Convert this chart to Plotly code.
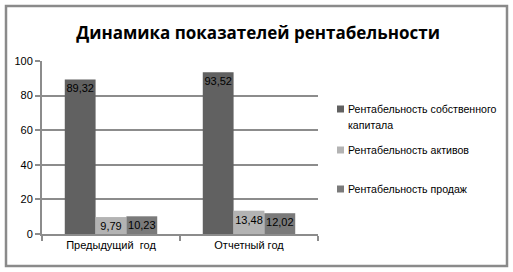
import plotly.graph_objects as go

categories = ["Предыдущий  год", "Отчетный год"]
series_names = ["Рентабельность собственного<br>капитала", "Рентабельность активов", "Рентабельность продаж"]
roe = [89.32, 93.52]
roa = [9.79, 13.48]
ros = [10.23, 12.02]
colors = ["#616161", "#b3b3b3", "#7a7a7a"]

FONT = "Liberation Sans"
L, R, T, B = 42, 195, 61, 38
W, H = 513, 272
PW, PH = W - L - R, H - T - B


def px(x):
    return (x - L) / PW


def py(y):
    return (H - B - y) / PH


fig = go.Figure()
for i, (name, vals) in enumerate(zip(series_names, [roe, roa, ros])):
    fig.add_trace(go.Bar(
        x=categories, y=vals, name=name, marker=dict(color=colors[i], line=dict(width=0)),
        texttemplate="%{y:.2f}", textposition="inside", insidetextanchor="end",
        textangle=0, constraintext="none",
        textfont=dict(family=FONT, size=11, color="#000000"),
        hoverinfo="skip", showlegend=False,
    ))

shapes = [dict(type="rect", xref="paper", yref="paper",
               x0=px(6), x1=px(507), y0=py(266), y1=py(6),
               line=dict(color="#8a8a8a", width=2.5), fillcolor="rgba(0,0,0,0)", layer="below")]
annotations = []
legend_y = [109, 150, 189]
for i, name in enumerate(series_names):
    yc = legend_y[i]
    shapes.append(dict(type="rect", xref="paper", yref="paper",
                       x0=px(337), x1=px(344), y0=py(yc + 3.5), y1=py(yc - 3.5),
                       line=dict(width=0), fillcolor=colors[i]))
    for j, line in enumerate(name.split("<br>")):
        annotations.append(dict(xref="paper", yref="paper", x=px(346), y=py(yc + 16 * j),
                                xanchor="left", yanchor="middle", showarrow=False, text=line,
                                font=dict(family=FONT, size=10.6, color="#000000")))

fig.update_layout(
    width=W, height=H,
    margin=dict(l=L, r=R, t=T, b=B),
    paper_bgcolor="white", plot_bgcolor="white",
    separators=", ",
    barmode="group", bargap=0.33, bargroupgap=0,
    title=dict(text="<b>Динамика показателей рентабельности</b>", x=0.503, xanchor="center",
               y=0.88, yanchor="middle",
               font=dict(family="Open Sans", size=17, color="#000000")),
    font=dict(family=FONT, size=11, color="#000000"),
    showlegend=False,
    shapes=shapes, annotations=annotations,
)
fig.update_yaxes(range=[0, 100], dtick=20, showgrid=True, gridcolor="#8c8c8c", gridwidth=2,
                 showline=True, linecolor="#8c8c8c", linewidth=2, ticks="outside",
                 ticklen=5, tickcolor="#8c8c8c", tickwidth=2, zeroline=False,
                 tickfont=dict(family=FONT, size=11))
fig.update_xaxes(showline=True, linecolor="#8c8c8c", linewidth=2, ticks="outside",
                 tickson="boundaries", ticklen=5, tickcolor="#8c8c8c", tickwidth=2,
                 tickfont=dict(family=FONT, size=11))

fig.write_html("out.html")
